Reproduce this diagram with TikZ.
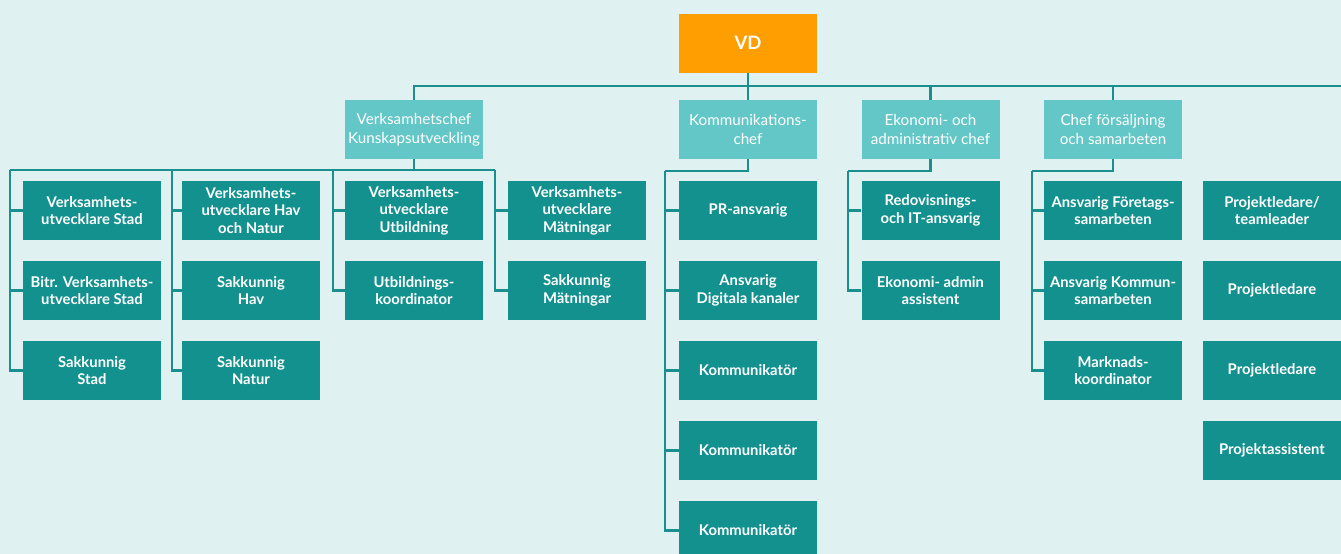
\documentclass[tikz,border=0pt]{standalone}
\usepackage{fontspec}
\setmainfont{Lato}
\definecolor{bgcyan}{HTML}{E0F1F2}
\definecolor{vdorange}{HTML}{FF9E00}
\definecolor{cheflight}{HTML}{63C7C7}
\definecolor{staffteal}{HTML}{13918F}
\definecolor{linkteal}{HTML}{1B8E8E}
\begin{document}
\begin{tikzpicture}[x=1pt,y=-1pt,node distance=80pt,
	box/.style={minimum width=138pt,minimum height=59pt,inner sep=2pt,align=center,text=white,font=\fontsize{15.2}{19}\selectfont},
	vd node/.style={box,fill=vdorange,font=\fontsize{18.5}{20}\selectfont\bfseries},
	chef node/.style={box,fill=cheflight},
	staff node/.style={box,fill=staffteal,font=\fontsize{14.8}{17.5}\selectfont\bfseries},
	link/.style={draw=linkteal,line width=2.5pt}]
		
		\useasboundingbox (0,0) rectangle (1341,554);
		\clip (0,0) rectangle (1341,554);
		\fill[bgcyan] (0,0) rectangle (1341,554);
		
		\node[vd node] (vd) at (748,43) {VD};
		
		\node[chef node] (c1) at (414,129.5) {Verksamhetschef\\Kunskapsutveckling};
		\node[chef node] (c2) at (748,129.5) {Kommunikations-\\chef};
		\node[chef node] (c3) at (930.5,129.5) {Ekonomi- och\\administrativ chef};
		\node[chef node] (c4) at (1113,129.5) {Chef försäljning\\och samarbeten};
		
		% Kunskapsutveckling
		\node[staff node] (s1) at (92,210.5) {Verksamhets-\\utvecklare Stad};
		\node[staff node] (s2) [below of = s1] {Bitr. Verksamhets-\\utvecklare Stad};
		\node[staff node] (s3) [below of = s2] {Sakkunnig\\Stad};
		\node[staff node] (h1) at (251,210.5) {Verksamhets-\\utvecklare Hav\\och Natur};
		\node[staff node] (h2) [below of = h1] {Sakkunnig\\Hav};
		\node[staff node] (h3) [below of = h2] {Sakkunnig\\Natur};
		\node[staff node] (u1) at (414,210.5) {Verksamhets-\\utvecklare\\Utbildning};
		\node[staff node] (u2) [below of = u1] {Utbildnings-\\koordinator};
		\node[staff node] (m1) at (577,210.5) {Verksamhets-\\utvecklare\\Mätningar};
		\node[staff node] (m2) [below of = m1] {Sakkunnig\\Mätningar};
		
		% Kommunikation
		\node[staff node] (k1) at (748,210.5) {PR-ansvarig};
		\node[staff node] (k2) [below of = k1] {Ansvarig\\Digitala kanaler};
		\node[staff node] (k3) [below of = k2] {Kommunikatör};
		\node[staff node] (k4) [below of = k3] {Kommunikatör};
		\node[staff node] (k5) [below of = k4] {Kommunikatör};
		
		% Ekonomi
		\node[staff node] (e1) at (930.5,210.5) {Redovisnings-\\och IT-ansvarig};
		\node[staff node] (e2) [below of = e1] {Ekonomi- admin\\assistent};
		
		% Försäljning
		\node[staff node] (f1) at (1113,210.5) {Ansvarig Företags-\\samarbeten};
		\node[staff node] (f2) [below of = f1] {Ansvarig Kommun-\\samarbeten};
		\node[staff node] (f3) [below of = f2] {Marknads-\\koordinator};
		
		\node[staff node] (p1) at (1272,210.5) {Projektledare/\\teamleader};
		\node[staff node] (p2) [below of = p1] {Projektledare};
		\node[staff node] (p3) [below of = p2] {Projektledare};
		\node[staff node] (p4) [below of = p3] {Projektassistent};
		
		\coordinate (top) at (1341,86);
		\coordinate (b1) at (10,170);
		\coordinate (b2) at (172,170);
		\coordinate (b3) at (333,170);
		\coordinate (b4) at (495,170);
		\coordinate (bk) at (665,171);
		\coordinate (be) at (848,171);
		\coordinate (bf) at (1032,171);
		
		\path[link] (vd.south) -- (vd.south |- top);
		\path[link] (c1.north) |- (top);
		\foreach \n in {c2,c3,c4}
			\path[link] (\n.north) -- (\n.north |- top);
		
		\path[link] (c1.south) -- (c1.south |- b1);
		\path[link] (b1) -- (b4);
		\foreach \n in {s1,s2,s3} \path[link] (b1) |- (\n.west);
		\foreach \n in {h1,h2,h3} \path[link] (b2) |- (\n.west);
		\foreach \n in {u1,u2} \path[link] (b3) |- (\n.west);
		\foreach \n in {m1,m2} \path[link] (b4) |- (\n.west);
		
		\path[link] (c2.south) |- (bk);
		\foreach \n in {k1,k2,k3,k4,k5} \path[link] (bk) |- (\n.west);
		\path[link] (c3.south) |- (be);
		\foreach \n in {e1,e2} \path[link] (be) |- (\n.west);
		\path[link] (c4.south) |- (bf);
		\foreach \n in {f1,f2,f3} \path[link] (bf) |- (\n.west);
		
		\end{tikzpicture}
\end{document}
